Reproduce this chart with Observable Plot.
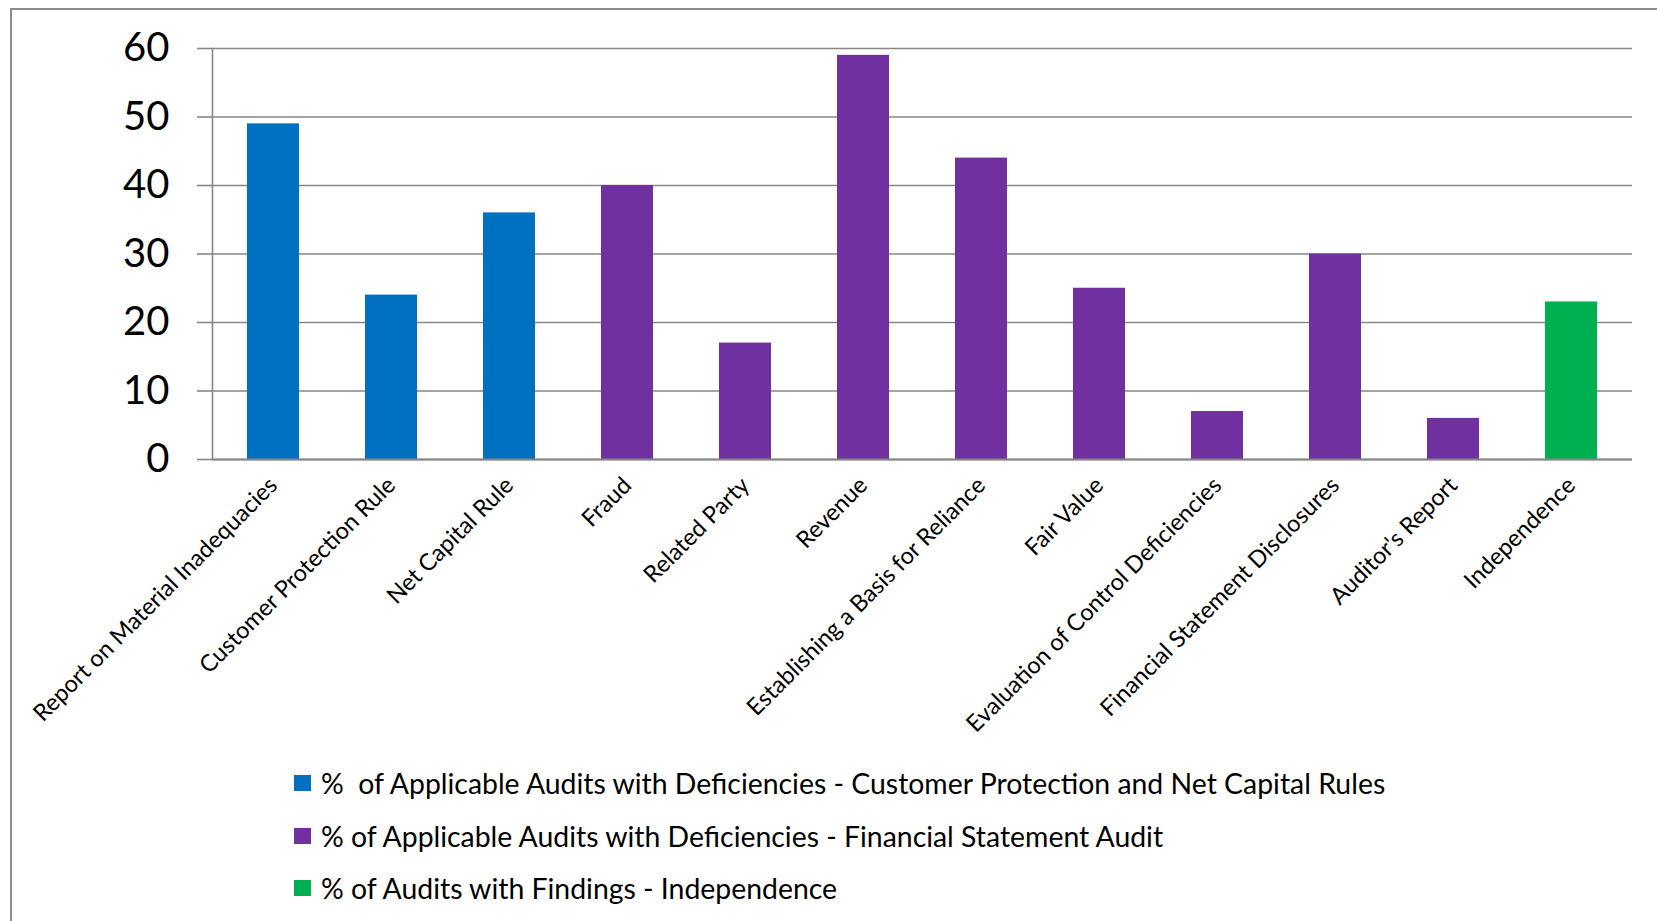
<!DOCTYPE html>
<html>
<head>
<meta charset="utf-8">
<script src="https://cdn.jsdelivr.net/npm/d3@7"></script>
<script src="https://cdn.jsdelivr.net/npm/@observablehq/plot@0.6"></script>
<style>
  html, body { margin: 0; padding: 0; background: #fff; overflow: hidden; width: 1657px; height: 921px; }
  #frame { position: absolute; left: 10px; top: 8px; width: 1700px; height: 1000px;
           border-left: 2px solid #8c8c8c; border-top: 2px solid #8c8c8c; box-sizing: border-box; }
  #chart { position: absolute; left: 0; top: 0; }
  #legend { position: absolute; left: 294px; top: 757px; font-family: Lato, "Open Sans", sans-serif; font-size: 28.4px; color: #000; }
  .row { display: flex; align-items: center; height: 52.5px; white-space: pre; }
  .sw { width: 17px; height: 16px; margin-right: 10px; flex: none; }
</style>
</head>
<body>
<div id="frame"></div>
<div id="chart"></div>
<div id="legend"></div>
<script>
const categories = [
  "Report on Material Inadequacies",
  "Customer Protection Rule",
  "Net Capital Rule",
  "Fraud",
  "Related Party",
  "Revenue",
  "Establishing a Basis for Reliance",
  "Fair Value",
  "Evaluation of Control Deficiencies",
  "Financial Statement Disclosures",
  "Auditor's Report",
  "Independence"
];
const values = [49, 24, 36, 40, 17, 59, 44, 25, 7, 30, 6, 23];
const seriesIndex = [0, 0, 0, 1, 1, 1, 1, 1, 1, 1, 1, 2];
const seriesLabels = [
  "%  of Applicable Audits with Deficiencies - Customer Protection and Net Capital Rules",
  "% of Applicable Audits with Deficiencies - Financial Statement Audit",
  "% of Audits with Findings - Independence"
];
const yTicks = [0, 10, 20, 30, 40, 50, 60];

const seriesColors = ["#0070C0", "#7030A0", "#00B050"];
const gridColor = "#868686";

const data = categories.map((c, i) => ({category: c, value: values[i], series: seriesLabels[seriesIndex[i]]}));

const chart = Plot.plot({
  width: 1657,
  height: 760,
  marginLeft: 212,
  marginRight: 25,
  marginTop: 48,
  marginBottom: 301,
  style: {fontFamily: "Lato, 'Open Sans', sans-serif", background: "transparent", color: "#000"},
  x: {domain: categories, paddingInner: 0.56, paddingOuter: 0.28, label: null},
  y: {domain: [0, 60], label: null},
  color: {domain: seriesLabels, range: seriesColors},
  marks: [
    Plot.gridY(yTicks, {stroke: gridColor, strokeOpacity: 1, strokeWidth: 1.6}),
    Plot.barY(data, {x: "category", y: "value", fill: "series"}),
    Plot.ruleY([0], {stroke: gridColor, strokeWidth: 2}),
    Plot.axisY(yTicks, {tickSize: 15, tickPadding: 28, fontSize: 40, stroke: gridColor, strokeWidth: 1.6, tickFormat: d => String(d), label: null}),
    Plot.frame({anchor: "left", stroke: gridColor, strokeWidth: 1.6}),
    Plot.axisX({tickSize: 0, tickRotate: -45, tickPadding: 22, fontSize: 23.5, label: null})
  ]
});
document.getElementById("chart").appendChild(chart);

const legend = document.getElementById("legend");
seriesLabels.forEach((s, i) => {
  const row = document.createElement("div");
  row.className = "row";
  const sw = document.createElement("span");
  sw.className = "sw";
  sw.style.background = seriesColors[i];
  const t = document.createElement("span");
  t.textContent = s;
  row.appendChild(sw);
  row.appendChild(t);
  legend.appendChild(row);
});
</script>
</body>
</html>
